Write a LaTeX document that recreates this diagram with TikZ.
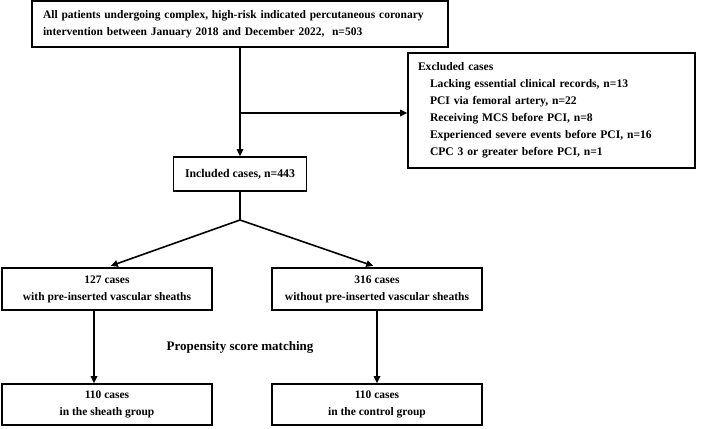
\documentclass[tikz,border=0pt]{standalone}
\usepackage{fontspec}
\setmainfont{Liberation Serif}
\usetikzlibrary{arrows.meta,positioning}

\begin{document}
\begin{tikzpicture}[
        x=1pt, y=-1pt,
        box/.style={draw, line width=1.6pt, align=center, inner sep=0pt,
            font=\fontsize{11.5}{17}\selectfont\bfseries,
            minimum width=210pt, minimum height=42pt},
        big/.style={font=\fontsize{#1}{17}\selectfont\bfseries},
        arr/.style={-{Triangle[length=7pt,width=6.5pt]}, line width=1.6pt},
        lin/.style={line width=1.6pt}
    ]
        \useasboundingbox (0,0) rectangle (703,428);
        \node[box, minimum width=416pt, minimum height=46pt, text width=394pt, align=left] (all) at (240,24)
            {All patients undergoing complex, high-risk indicated percutaneous coronary\\intervention between January 2018 and December 2022,\ \ n=503};
        \node[box, big=11.6, minimum width=287pt, minimum height=115pt, text width=267pt, align=left] (excl) at (551.5,110.5)
            {Excluded cases\\
            \hspace*{12pt}Lacking essential clinical records, n=13\\
            \hspace*{12pt}PCI via femoral artery, n=22\\
            \hspace*{12pt}Receiving MCS before PCI, n=8\\
            \hspace*{12pt}Experienced severe events before PCI, n=16\\
            \hspace*{12pt}CPC 3 or greater before PCI, n=1};
        \node[box, big=11.8, minimum width=133pt, minimum height=34pt] (incl) at (240,174) {Included cases, n=443};
        \node[box] (with) at (107,289) {127 cases\\with pre-inserted vascular sheaths};
        \node[box] (without) at (377,289) {316 cases\\without pre-inserted vascular sheaths};
        \node[box, minimum height=41pt] (sheath) at (107,404.5) {110 cases\\in the sheath group};
        \node[box, minimum height=41pt] (control) at (377,404.5) {110 cases\\in the control group};
        \node[big=13] (psm) at (240,347) {Propensity score matching};
        \coordinate (exit) at (240,113);
        \coordinate (split) at (240,220);
        \draw[arr] (all) -- (incl);
        \draw[arr] (exit) -- (exit -| excl.west);
        \draw[lin] (incl) -- (split);
        \draw[arr, shorten >=4pt] (split) -- (with.north);
        \draw[arr, shorten >=4pt] (split) -- (without.north);
        \draw[arr] ([xshift=-13pt]with.south) -- ([xshift=-13pt]sheath.north);
        \draw[arr] (without) -- (control);
    \end{tikzpicture}
\end{document}
